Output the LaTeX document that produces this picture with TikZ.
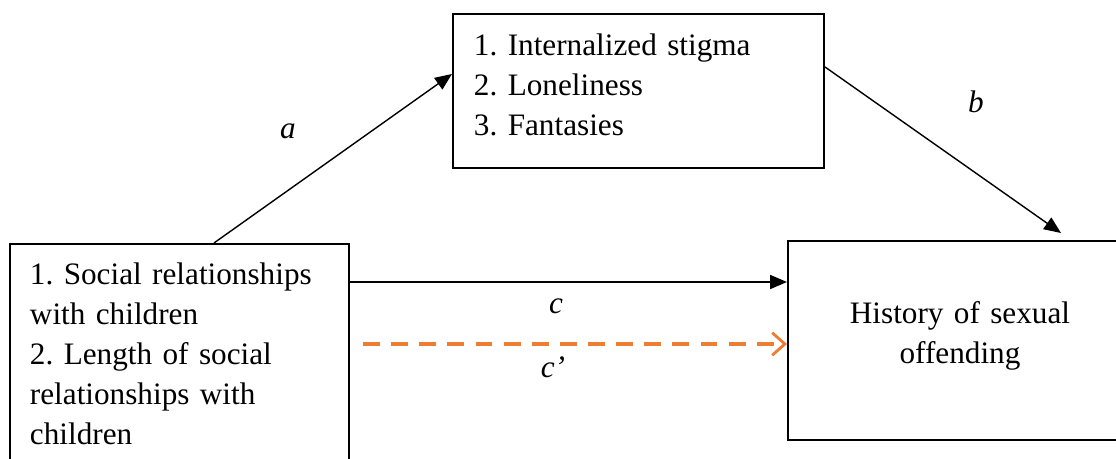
\documentclass[tikz,border=0pt]{standalone}
\usepackage{fontspec}
\setmainfont{Liberation Serif}
\usetikzlibrary{positioning,arrows.meta,calc}
\definecolor{medorange}{RGB}{237,125,49}
\frenchspacing
\newcommand{\padbottom}[1]{\par\vspace{#1}\hrule height 0pt}

\begin{document}
\begin{tikzpicture}[x=0.025cm,y=-0.025cm,
            font=\fontsize{22.2}{28.5}\selectfont,
            box/.style={rectangle,draw=black,line width=1.4pt,
                        inner xsep=0.5cm,inner ysep=0pt},
            lbl/.style={font=\fontsize{22.2}{28.5}\selectfont\itshape},
            arr/.style={-{Triangle[length=12pt,width=10pt]},line width=1pt},
            darr/.style={-{Straight Barb[length=9pt,width=16pt,line width=2pt]},
                         medorange,line width=2.2pt,dash pattern=on 12pt off 8pt}]
            \useasboundingbox (0,0) rectangle (1116,459);
            \node[box,minimum width=9.275cm,minimum height=3.85cm,
                  text width=8.225cm,align=left] (med) at (638.5,91)
                  {1. Internalized stigma\\2. Loneliness\\3. Fantasies\padbottom{0.3cm}};
            \node[box,minimum width=8.475cm,minimum height=5.5cm,
                  text width=7.475cm,align=left] (pred) at (179.5,354)
                  {1. Social relationships\\with children\\2. Length of social\\relationships with\\children};
            \node[box,minimum width=8.6cm,minimum height=4.975cm,
                  text width=7.6cm,align=center] (hist) at (960,340.5)
                  {History of sexual\\offending\padbottom{0.25cm}};
            % paths
            \draw[arr] ($(pred.north west)+(205,0)$) -- ($(med.north west)+(0,61)$);
            \draw[arr] ($(med.north east)+(0,54)$) -- ($(hist.north west)+(274,-7)$);
            \coordinate (cstart) at ($(pred.north east)+(0,39)$);
            \draw[arr] (cstart) -- (cstart -| hist.west);
            \coordinate (dstart) at ($(pred.north east)+(13,101)$);
            \draw[darr] (dstart) -- (dstart -| hist.west);
            \node[lbl] (la) at (288,131) {a};
            \node[lbl] (lb) at (976,102) {b};
            \node[lbl] (lc) at (556,306) {c};
            \node[lbl] (lcp) at (553,367) {c’};
        \end{tikzpicture}
\end{document}
